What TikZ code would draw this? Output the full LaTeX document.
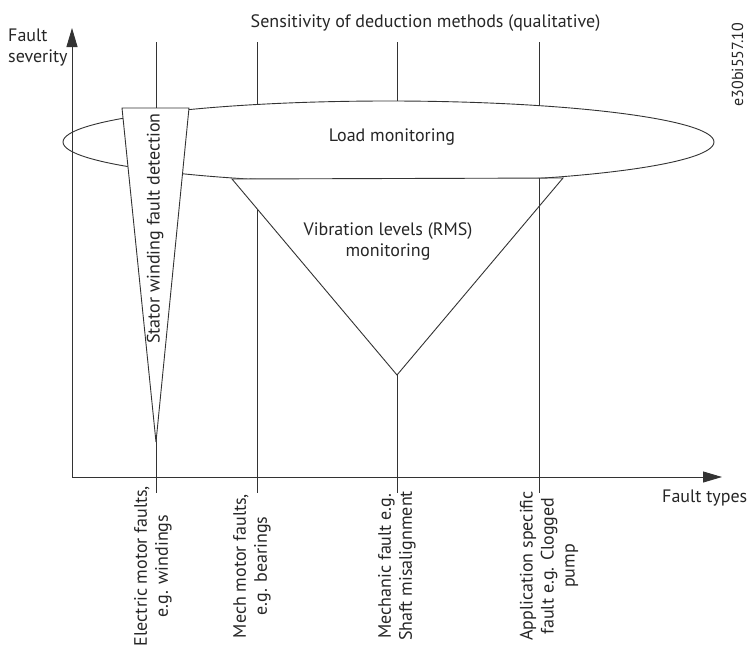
\documentclass[tikz,border=0pt]{standalone}
\usepackage{fontspec}
\setmainfont{PT Sans}
\usetikzlibrary{arrows.meta, shapes.geometric}

\begin{document}
\begin{tikzpicture}[x=1pt, y=-1pt,
  ln/.style={black!80, line width=0.9pt},
  ax/.style={ln, -{Triangle[length=19pt, width=11pt]}},
  txt/.style={font=\fontsize{18}{21}\selectfont, text=black!85, inner sep=0pt, align=center},
  zone/.style={ln, draw, fill=white}]
\useasboundingbox (0,0) rectangle (747,648);
\coordinate (o) at (72,477);
\coordinate (ytop) at (72,28);
\coordinate (xend) at (722,477);
\coordinate (eltop) at (156,42);  \coordinate (elbot) at (156,493);
\coordinate (metop) at (257,42);  \coordinate (mebot) at (257,493);
\coordinate (shtop) at (397,42);  \coordinate (shbot) at (397,493);
\coordinate (aptop) at (539,42);  \coordinate (apbot) at (539,493);
\foreach \n in {el,me,sh,ap}
  \draw[ln] (\n top) -- (\n bot);
\node[txt, anchor=base] (title) at (425.5,27) {Sensitivity of deduction methods (qualitative)};
\node[zone, ellipse, minimum width=651pt, minimum height=82pt, inner sep=0pt] (load) at (388.5,142) {};
\node[txt] (loadtxt) at (392,137) {Load monitoring};
\coordinate (vl) at (232,179);
\coordinate (vr) at (563,178);
\coordinate (vb) at (397,375);
\draw[zone] (vl) -- (vr) -- (vb) -- cycle;
\coordinate (apin) at (539,178.4);
\draw[ln] (apin) -- (apbot);
\node[txt] (vib) at (388,241) {Vibration levels (RMS)\\monitoring};
\coordinate (sl) at (122,108);
\coordinate (sr) at (189,108);
\coordinate (sb) at (156,442);
\draw[zone] (sl) -- (sr) -- (sb) -- cycle;
\node[txt, rotate=90] (stator) at (155,228.5) {Stator winding fault detection};
\draw[ax] (o) -- (ytop);
\draw[ax] (o) -- (xend);
\node[txt, align=left, anchor=north west] (sev) at (8,29) {Fault\\severity};
\node[txt, anchor=base west] (types) at (662,502) {Fault types};
\node[txt, rotate=90] (elec) at (153,566) {Electric motor faults,\\e.g. windings};
\node[txt, rotate=90] (mech) at (252,566) {Mech motor faults,\\e.g. bearings};
\node[txt, rotate=90] (shaft) at (397,566) {Mechanic fault e.g.\\Shaft misalignment};
\node[txt, rotate=90] (appl) at (549,566) {Application specific\\fault e.g. Clogged\\pump};
\node[txt, rotate=90, font=\fontsize{16}{19}\selectfont] (id) at (737.5,64.5) {e30bi557.10};
\end{tikzpicture}
\end{document}
